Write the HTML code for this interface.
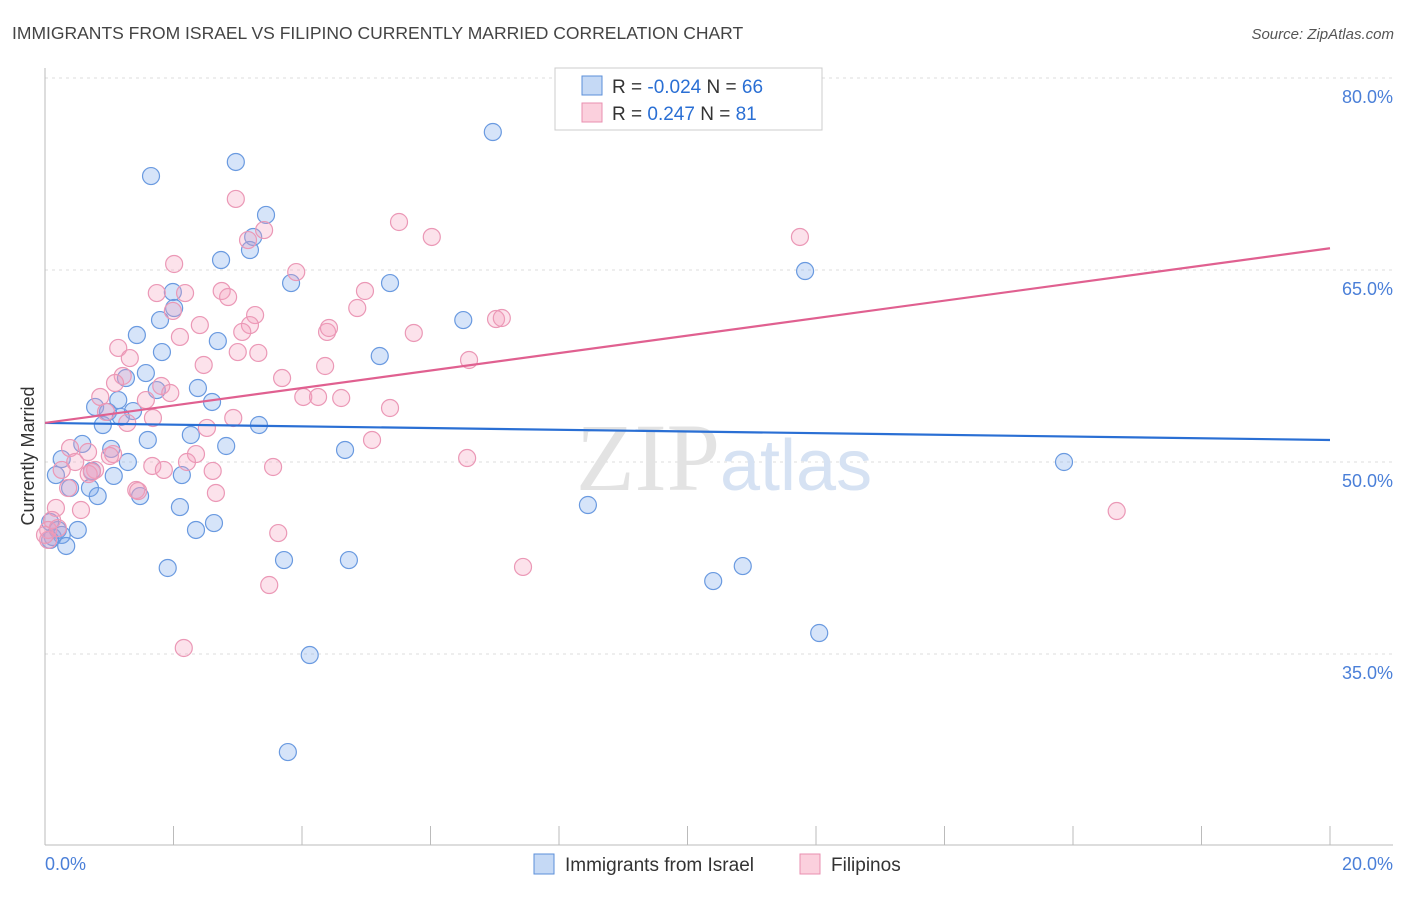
<!DOCTYPE html>
<html><head><meta charset="utf-8"><style>
body{margin:0;background:#fff;font-family:"Liberation Sans",sans-serif;}
</style></head><body>
<svg width="1406" height="892" xmlns="http://www.w3.org/2000/svg">
<text x="12" y="39" font-size="17.5" fill="#444">IMMIGRANTS FROM ISRAEL VS FILIPINO CURRENTLY MARRIED CORRELATION CHART</text>
<text x="1394" y="39" font-size="15" fill="#555" font-style="italic" text-anchor="end">Source: ZipAtlas.com</text>
<g id="grid"></g>
<text x="720" y="490" font-size="96" fill="#e3e3e3" text-anchor="end" font-family="Liberation Serif">ZIP</text>
<text x="720" y="490" font-size="72" fill="#d6e2f3">atlas</text>
<line x1="45" y1="68" x2="45" y2="845" stroke="#bbb"/>
<line x1="45" y1="845" x2="1393" y2="845" stroke="#bbb"/>
<g id="xt"></g>
<text x="45" y="870" font-size="18" fill="#4a7fd8">0.0%</text>
<text x="1393" y="870" font-size="18" fill="#4a7fd8" text-anchor="end">20.0%</text>
<text transform="translate(34,456) rotate(-90)" font-size="18" fill="#333" text-anchor="middle">Currently Married</text>
<g id="pts"></g>
<g id="lines"></g>
<g>
<rect x="555" y="68" width="267" height="62" fill="#fff" stroke="#ccc"/>
<rect x="582" y="76" width="20" height="19" fill="#c5d9f5" stroke="#5b8fd9"/>
<rect x="582" y="103" width="20" height="19" fill="#fbd0dd" stroke="#e98fb0"/>
<text x="612" y="93" font-size="19" fill="#333">R = <tspan fill="#2a6fd4">-0.024</tspan>   N = <tspan fill="#2a6fd4">66</tspan></text>
<text x="612" y="120" font-size="19" fill="#333">R =  <tspan fill="#2a6fd4"> 0.247</tspan>   N = <tspan fill="#2a6fd4"> 81</tspan></text>
</g>
<g>
<rect x="534" y="854" width="20" height="20" fill="#c5d9f5" stroke="#5b8fd9"/>
<text x="565" y="871" font-size="19" fill="#333">Immigrants from Israel</text>
<rect x="800" y="854" width="20" height="20" fill="#fbd0dd" stroke="#e98fb0"/>
<text x="831" y="871" font-size="19" fill="#333">Filipinos</text>
</g>
</svg>
<script>
const yTicks=[80,65,50,35];
const yTickLabels=["80.0%","65.0%","50.0%","35.0%"];
const xTicks=[0,2,4,6,8,10,12,14,16,18,20];
const blueX=[6.97,2.97,1.65,3.44,3.24,3.19,2.74,3.83,5.37,11.83,1.99,2.01,1.79,6.51,1.43,2.69,1.82,5.21,1.57,1.26,2.38,1.74,2.60,0.78,1.14,0.98,1.37,1.18,0.90,3.33,2.27,1.60,0.58,1.03,2.82,4.67,0.26,1.29,15.86,0.17,1.07,2.13,0.70,0.39,0.82,1.48,2.10,8.45,2.63,2.35,0.51,0.08,0.20,0.12,0.26,0.33,3.72,4.73,1.91,10.86,10.40,12.05,4.12,3.78,0.08,0.73];
const blueY=[75.78,73.44,72.34,69.30,67.58,66.56,65.78,63.98,63.98,64.92,63.28,62.03,61.09,61.09,59.92,59.45,58.59,58.28,56.95,56.56,55.78,55.62,54.69,54.30,54.84,53.91,53.98,53.52,52.89,52.89,52.11,51.72,51.41,51.02,51.25,50.94,50.23,50.0,50.0,48.98,48.91,48.98,47.97,47.97,47.34,47.34,46.48,46.64,45.23,44.69,44.69,45.31,44.69,44.14,44.30,43.44,42.34,42.34,41.72,41.87,40.70,36.64,34.92,27.34,43.91,49.30];
const pinkX=[2.97,5.51,3.41,6.02,11.75,3.16,2.01,3.91,2.18,1.74,2.75,2.85,4.98,3.27,4.86,1.99,2.41,3.19,7.02,7.11,3.07,2.10,4.39,4.42,5.74,1.14,3.00,3.32,6.60,1.32,2.47,4.36,3.69,1.21,1.09,1.81,1.95,0.86,4.02,4.25,4.61,1.57,5.37,0.95,2.93,1.68,2.52,1.28,5.09,0.39,0.67,1.06,2.35,2.21,0.47,6.57,1.67,3.55,1.85,0.26,0.78,2.61,0.68,1.42,2.66,0.36,0.56,16.68,0.17,0.11,0.05,3.63,7.44,3.49,2.16,1.45,1.01,0.05,0.0,0.20,0.73];
const pinkY=[70.55,68.75,68.12,67.58,67.58,67.34,65.47,64.84,63.20,63.20,63.36,62.89,63.36,61.48,62.03,61.80,60.70,60.70,61.17,61.25,60.16,59.77,60.16,60.47,60.08,58.91,58.59,58.52,57.97,58.12,57.58,57.50,56.56,56.72,56.17,55.94,55.39,55.08,55.08,55.08,55.0,54.84,54.22,53.91,53.44,53.44,52.66,53.05,51.72,51.09,50.78,50.62,50.62,50.0,50.0,50.31,49.69,49.61,49.38,49.38,49.38,49.30,49.06,47.81,47.58,47.97,46.25,46.17,46.41,45.47,43.91,44.45,41.80,40.39,35.47,47.73,50.47,44.69,44.30,44.84,49.22];
const blueTrend=[53.05,51.72];
const pinkTrend=[53.05,66.7];
const NS="http://www.w3.org/2000/svg";
const X=v=>45+v*64.25, Y=v=>78+(80-v)*12.8;
function mk(t,a,p){const e=document.createElementNS(NS,t);for(const k in a)e.setAttribute(k,a[k]);p.appendChild(e);return e;}
const grid=document.getElementById('grid');
yTicks.forEach((t,i)=>{
 const l=mk('line',{x1:45,x2:1393,y1:Y(t),y2:Y(t),stroke:'#ddd','stroke-dasharray':'3,4'},grid);
 
 
 const tx=mk('text',{x:1393,y:Y(t)+25,'font-size':18,fill:'#4a7fd8','text-anchor':'end'},grid);
 tx.textContent=yTickLabels[i];
 
 
});
const xt=document.getElementById('xt');
xTicks.forEach(t=>{
 const l=mk('line',{x1:X(t),x2:X(t),y1:826,y2:845,stroke:'#bbb'},xt);
 
 
});
const pts=document.getElementById('pts');
function draw(xs,ys,fill,stroke,name){
 xs.forEach((v,i)=>{
  const c=mk('circle',{cx:X(v),cy:Y(ys[i]),r:8.5,fill:fill,stroke:stroke,'stroke-width':1.2},pts);
  
  
 });
}
draw(blueX,blueY,'rgba(120,165,235,0.3)','#6a9ae0','point-israel');
draw(pinkX,pinkY,'rgba(245,160,190,0.3)','#eb98b6','point-filipinos');
const lines=document.getElementById('lines');
const bl=mk('line',{x1:X(0),y1:Y(blueTrend[0]),x2:X(20),y2:Y(blueTrend[1]),stroke:'#2a6fd4','stroke-width':2.2},lines);


const pl=mk('line',{x1:X(0),y1:Y(pinkTrend[0]),x2:X(20),y2:Y(pinkTrend[1]),stroke:'#e06090','stroke-width':2.2},lines);


</script>
</body></html>
